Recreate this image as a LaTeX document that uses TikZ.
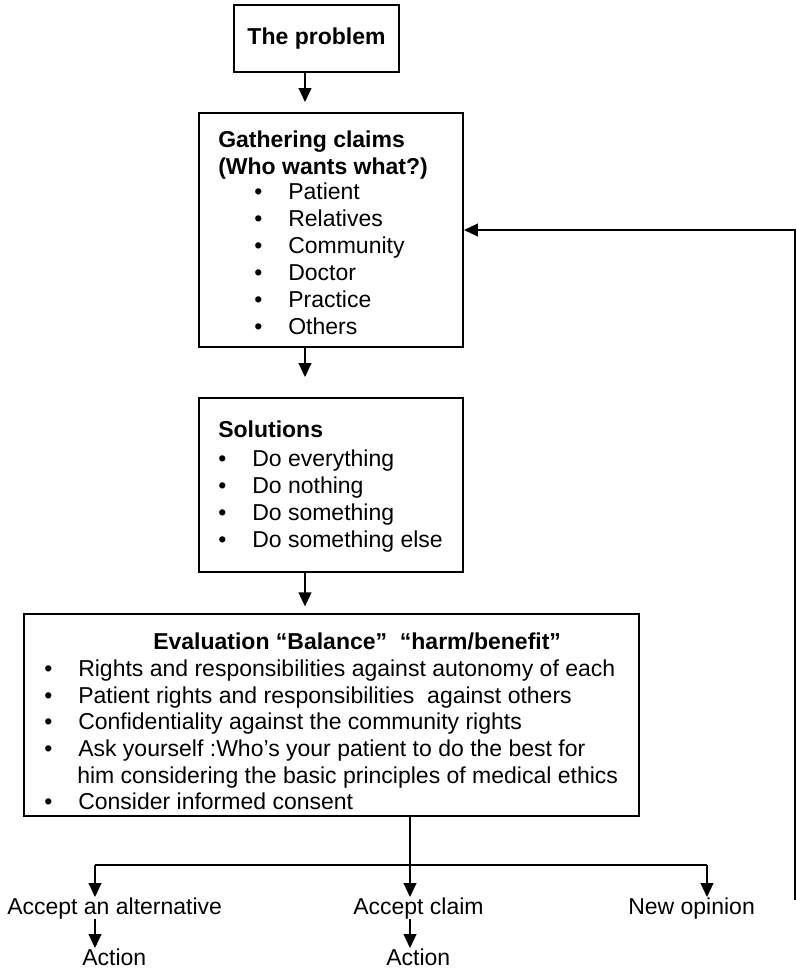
\documentclass[tikz,border=0pt]{standalone}
\usepackage{fontspec}
\setmainfont{Liberation Sans}
\usetikzlibrary{arrows.meta, positioning, fit}

\newcommand{\itm}{\makebox[25.5pt][l]{•}}

\begin{document}
\begin{tikzpicture}[x=0.75pt, y=-0.75pt,
    every node/.style={font=\fontsize{17.25}{20}\selectfont, inner sep=0pt},
    box/.style={draw, line width=1.4pt},
    txt/.style={anchor=base west},
    flow/.style={line width=1.4pt, -{Triangle[length=10.5pt, width=9.5pt]}}]
    \useasboundingbox (0,0) rectangle (796,970);

    \node[box, minimum width=123.75pt, minimum height=50.25pt] (problem) at (316.5,38.5) {\textbf{The problem}};

    % who wants what
    \node[box, fit={(199,113) (463,347)}] (claims) {};
    \node[txt] (claimsHead) at (218,147) {\textbf{Gathering claims}};
    \node[txt] (claimsSub) at (218,175) {\textbf{(Who wants what?)}};
    \node[txt] (c1) at (254,199) {\itm Patient};
    \node[txt] (c2) at (254,226) {\itm Relatives};
    \node[txt] (c3) at (254,253) {\itm Community};
    \node[txt] (c4) at (254,280) {\itm Doctor};
    \node[txt] (c5) at (254,307) {\itm Practice};
    \node[txt] (c6) at (254,334) {\itm Others};

    % solutions
    \node[box, fit={(199,398) (463,572)}] (solutions) {};
    \node[txt] (solHead) at (218,437) {\textbf{Solutions}};
    \node[txt] (s1) at (218,466) {\itm Do everything};
    \node[txt] (s2) at (218,493) {\itm Do nothing};
    \node[txt] (s3) at (218,520) {\itm Do something};
    \node[txt] (s4) at (218,547) {\itm Do something else};

    % evaluation
    \node[box, fit={(24,614) (639,816)}] (eval) {};
    \node[txt] (evalHead) at (153,649) {\textbf{Evaluation “Balance”\ \ “harm/benefit”}};
    \node[txt] (e1) at (44,676) {\itm Rights and responsibilities against autonomy of each};
    \node[txt] (e2) at (44,703) {\itm Patient rights and responsibilities\ \ against others};
    \node[txt] (e3) at (44,729) {\itm Confidentiality against the community rights};
    \node[txt] (e4) at (44,756) {\itm Ask yourself :Who’s your patient to do the best for};
    \node[txt] (e4b) at (77,783) {him considering the basic principles of medical ethics};
    \node[txt] (e5) at (44,809) {\itm Consider informed consent};

    % outcomes
    \node[txt] (alt) at (7,914) {Accept an alternative};
    \node[txt] (claim) at (353,914) {Accept claim};
    \node[txt] (newop) at (628,914) {New opinion};
    \node[txt] (act1) at (82,965) {Action};
    \node[txt] (act2) at (386,965) {Action};

    \coordinate (axis) at (305,0);
    \coordinate (split) at (410,865);
    \coordinate (jl) at (95,865);
    \coordinate (jr) at (707,865);
    \coordinate (back) at (795,900);

    \draw[flow, shorten >=7.5pt] (problem.south -| axis) -- (claims.north -| axis);
    \draw[flow, shorten >=15pt] (claims.south -| axis) -- (solutions.north -| axis);
    \draw[flow, shorten >=5pt] (solutions.south -| axis) -- (eval.north -| axis);

    \draw[line width=1.1pt] (eval.south -| split) -- (split);
    \draw[line width=1.4pt] (jl) -- (jr);
    \draw[flow] (jl) -- (jl |- alt.north);
    \draw[flow] (split) -- (split |- claim.north);
    \draw[flow] (jr) -- (jr |- newop.north);
    \draw[flow] (jl |- alt.south) -- (jl |- act1.north);
    \draw[flow] (split |- claim.south) -- (split |- act2.north);

    \draw[flow] (back) |- (claims.east);
  \end{tikzpicture}
\end{document}
